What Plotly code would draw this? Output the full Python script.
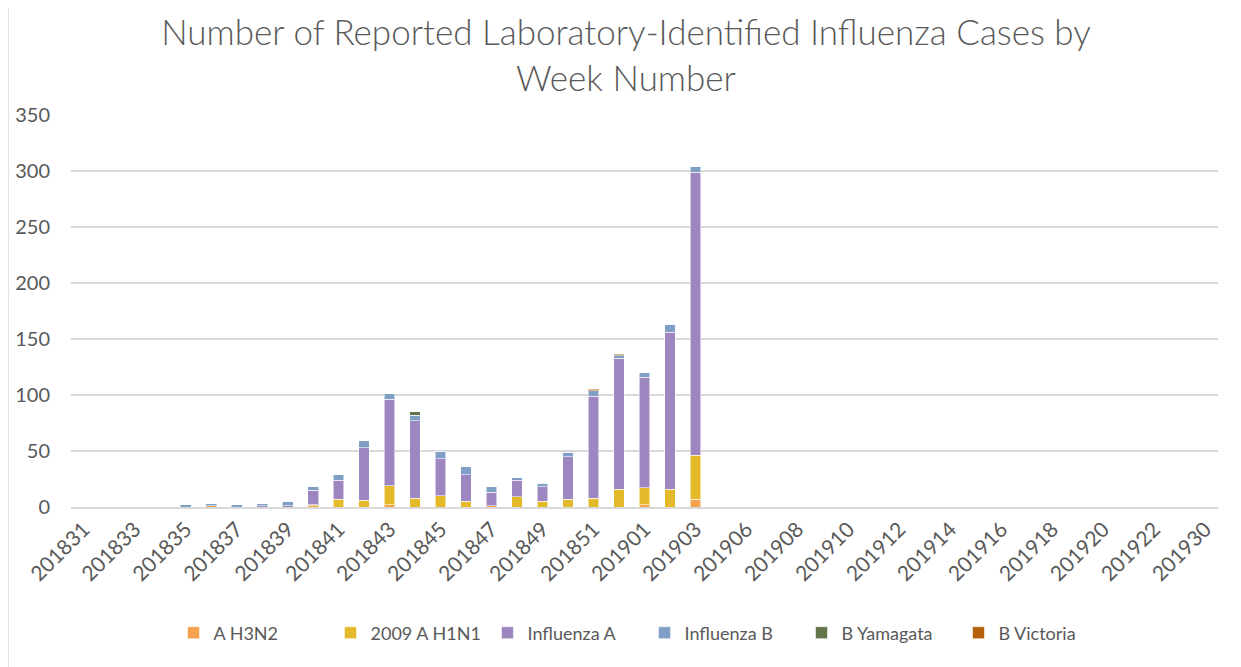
import plotly.graph_objects as go

weeks = ([str(201800 + w) for w in range(31, 53)]
         + ["201901", "201902", "201903", "201904"]
         + [str(201900 + w) for w in range(6, 23)]
         + ["201923", "201930"])

# values for weeks 201831 .. 201903 (remaining weeks are zero)
a_h3n2 =    [0, 0, 0, 0, 0, 1, 0, 0, 0, 1, 0, 0, 2, 0, 0, 0, 1, 0, 0, 0, 0, 0, 2, 0, 7]
h1n1_2009 = [0, 0, 0, 0, 0, 0, 0, 0, 0, 1, 7, 6, 17, 8, 10, 5, 0, 9, 5, 7, 8, 16, 15, 16, 39]
infl_a =    [0, 0, 0, 0, 0, 0, 0, 1, 1, 13, 17, 47, 77, 69, 33, 24, 12, 15, 13, 38, 91, 117, 99, 140, 253]
infl_b =    [0, 0, 0, 0, 2, 2, 2, 2, 4, 3, 5, 6, 5, 5, 7, 7, 5, 2, 3, 4, 5, 2, 4, 7, 5]
b_yamagata = [0, 0, 0, 0, 0, 0, 0, 0, 0, 0, 0, 0, 0, 3, 0, 0, 0, 0, 0, 0, 0, 1, 0, 0, 0]
b_victoria = [0, 0, 0, 0, 0, 0, 0, 0, 0, 0, 0, 0, 0, 0, 0, 0, 0, 0, 0, 0, 1, 1, 0, 0, 0]

def pad(v):
    return v + [0] * (len(weeks) - len(v))

series = [
    ("A H3N2", a_h3n2, "#F4A24B"),
    ("2009 A H1N1", h1n1_2009, "#E5BA2A"),
    ("Influenza A", infl_a, "#9E86C1"),
    ("Influenza B", infl_b, "#7F9FC6"),
    ("B Yamagata", b_yamagata, "#637549"),
    ("B Victoria", b_victoria, "#B4600F"),
]

font_family = "Lato, 'Open Sans', sans-serif"
grey = "#595959"

# page body has an 8px margin, so the figure is 8px smaller and offset
W, H = 1233, 659
ML, MR, MT, MB = 63, 23, 107, 160
PW, PH = W - ML - MR, H - MT - MB

fig = go.Figure()
for name, vals, col in series:
    fig.add_trace(go.Bar(
        x=weeks, y=pad(vals), name=name,
        marker=dict(color=col, line=dict(color="rgba(255,255,255,0.55)", width=1)),
        width=0.42,
    ))

fig.update_layout(
    barmode="stack",
    width=W, height=H,
    paper_bgcolor="white", plot_bgcolor="white",
    margin=dict(l=ML, r=MR, t=MT, b=MB, autoexpand=False),
    title=dict(
        text="Number of Reported Laboratory-Identified Influenza Cases by<br>Week Number",
        x=(626 - 8) / W, xref="container", xanchor="center",
        y=1 - (37 / H), yref="container", yanchor="middle",
        font=dict(family=font_family, size=35, color=grey, weight=300),
    ),
    font=dict(family=font_family, color=grey),
    legend=dict(
        orientation="h", x=0.5, xanchor="center", y=-126 / PH, yanchor="middle",
        font=dict(size=18, color=grey), traceorder="normal",
        itemwidth=30, entrywidth=112, entrywidthmode="pixels",
    ),
    xaxis=dict(
        type="category", tickmode="array",
        tickvals=weeks[::2], ticktext=weeks[::2],
        tickangle=-45, tickfont=dict(size=21, color=grey),
        showgrid=False, showline=True, linecolor="#D9D9D9", linewidth=1.5,
        ticks="", automargin=False,
    ),
    yaxis=dict(
        range=[0, 350], dtick=50, tickfont=dict(size=20, color=grey),
        showgrid=True, gridcolor="#D9D9D9", gridwidth=1.5,
        zeroline=False, showline=False, ticks="", automargin=False,
        ticklabelstandoff=20,
    ),
    bargap=0.58,
    shapes=[dict(type="line", xref="paper", yref="paper",
                 x0=-ML / PW, x1=-ML / PW, y0=-MB / PH, y1=1 + MT / PH,
                 line=dict(color="#D9D9D9", width=1.5))],
)

fig.write_html("out.html")
